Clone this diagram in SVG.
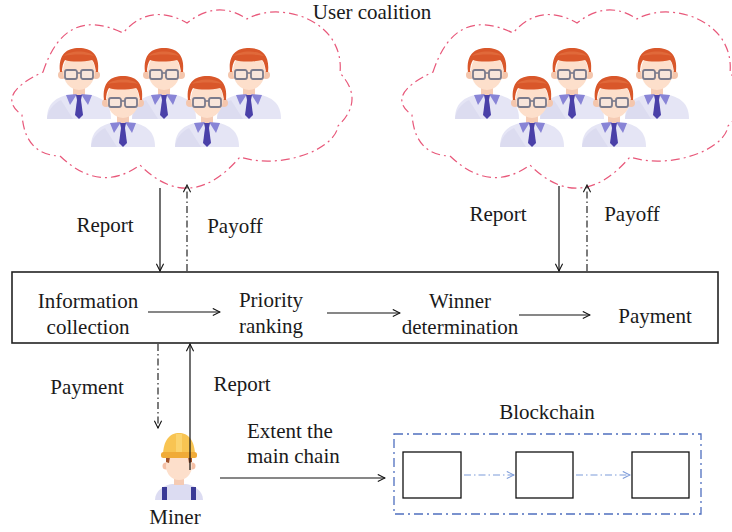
<svg xmlns="http://www.w3.org/2000/svg" xmlns:xlink="http://www.w3.org/1999/xlink" width="732" height="532" viewBox="0 0 732 532">
  <style>
    text { font-family: 'Liberation Serif', 'Times New Roman', 'DejaVu Serif', serif; font-size: 21px; fill: #1a1a1a; }
    .c { text-anchor: middle; }
    .solid { fill: none; stroke: #111; stroke-width: 1.2; }
    .dashdot { fill: none; stroke: #111; stroke-width: 1.1; stroke-dasharray: 7 3 1.5 3; }
    .cloud { fill: none; stroke: #e8587a; stroke-width: 1.2; stroke-dasharray: 9 4 2 4; }
    .chainbox { fill: none; stroke: #4f6fbf; stroke-width: 1.3; stroke-dasharray: 9 4 2 4; }
    .block { fill: #fff; stroke: #111; stroke-width: 1.3; }
    .link { fill: none; stroke: #7d9bd9; stroke-width: 1.2; stroke-dasharray: 7 3 1.5 3; }
  </style>
  <defs>
    <marker id="arr" viewBox="0 0 10 10" refX="9" refY="5" markerWidth="9" markerHeight="9" markerUnits="userSpaceOnUse" orient="auto">
      <path d="M1,1 L9,5 L1,9" fill="none" stroke="#111" stroke-width="1.2"/>
    </marker>
    <marker id="arrBlue" viewBox="0 0 10 10" refX="9" refY="5" markerWidth="9" markerHeight="9" markerUnits="userSpaceOnUse" orient="auto">
      <path d="M1,1 L9,5 L1,9" fill="none" stroke="#7d9bd9" stroke-width="1.2"/>
    </marker>

    <!-- a user: centred on x=0, top of hair at y=0 -->
    <g id="user">
      <path d="M-32,71 C-32,56 -24,50 -12,47 L12,47 C24,50 32,56 32,71 Z" fill="#e5e5f5"/>
      <path d="M-32,71 C-31,62 -26,56 -18,52 L-6,71 Z" fill="#dcdcf0"/>
      <rect x="-6" y="37" width="12" height="11" fill="#f5cbb4"/>
      <path d="M-2,46 L-13,47 L-9,57 Z" fill="#8884d6"/>
      <path d="M2,46 L13,47 L9,57 Z" fill="#8884d6"/>
      <path d="M-3,47 L3,47 L2,52 L-2,52 Z" fill="#4a40a8"/>
      <path d="M-2,52 L2,52 L4,67 L0,71 L-4,67 Z" fill="#4a40a8"/>
      <circle cx="-17" cy="27" r="4" fill="#f4c6ad"/>
      <circle cx="17" cy="27" r="4" fill="#f4c6ad"/>
      <ellipse cx="0" cy="23" rx="16" ry="19" fill="#fddfcb"/>
      <path d="M-19,24 C-21,6 -12,0 0,0 C12,0 21,6 19,24 L17,24 C16,17 15,14 13,12 C4,14 -8,14 -14,12 C-16,15 -17,19 -17,24 Z" fill="#d9572a"/>
      <path d="M-15,8 C-10,2 10,2 15,8 C8,6 -8,6 -15,8 Z" fill="#e0693a"/>
      <rect x="-14" y="22" width="12" height="9" rx="2" fill="#f3ecea" fill-opacity="0.5" stroke="#7b7b8c" stroke-width="1.8"/>
      <rect x="2" y="22" width="12" height="9" rx="2" fill="#f3ecea" fill-opacity="0.5" stroke="#7b7b8c" stroke-width="1.8"/>
      <path d="M-2,25 L2,25" stroke="#7b7b8c" stroke-width="1.6"/>
    </g>

    <!-- cloud outline around a user group -->
    <path id="cloudShape" d="M43,72 Q65,5 123,33 Q150,2 187,23 Q217,-1 247,19 C280,0 345,20 340,73 Q365,100 338,126 C335,150 280,170 240,157 Q190,215 140,165 Q100,194 60,156 Q25,155 22,115 Q-6,95 43,72 Z"/>
  </defs>

  <!-- left user coalition -->
  <g id="coalition-left">
    <use xlink:href="#cloudShape" class="cloud"/>
    <use xlink:href="#user" x="79" y="48"/>
    <use xlink:href="#user" x="164" y="48"/>
    <use xlink:href="#user" x="249" y="48"/>
    <use xlink:href="#user" x="123" y="76"/>
    <use xlink:href="#user" x="207" y="76"/>
  </g>

  <!-- right user coalition -->
  <g id="coalition-right">
    <use xlink:href="#cloudShape" class="cloud" transform="translate(390,0)"/>
    <use xlink:href="#user" x="487" y="48"/>
    <use xlink:href="#user" x="572" y="48"/>
    <use xlink:href="#user" x="657" y="48"/>
    <use xlink:href="#user" x="532" y="76"/>
    <use xlink:href="#user" x="614" y="76"/>
  </g>

  <text class="c" x="372" y="19">User coalition</text>

  <!-- auction process -->
  <g id="auction">
    <rect x="12" y="272" width="706" height="71" fill="#fff" stroke="#222" stroke-width="1.6"/>
    <g id="info-collection">
      <text class="c" x="88" y="308">Information</text>
      <text class="c" x="88" y="334">collection</text>
    </g>
    <g id="priority-ranking">
      <text class="c" x="271" y="307">Priority</text>
      <text class="c" x="271" y="333">ranking</text>
    </g>
    <g id="winner-determination">
      <text class="c" x="460" y="308">Winner</text>
      <text class="c" x="460" y="334">determination</text>
    </g>
    <g id="payment">
      <text class="c" x="655" y="323">Payment</text>
    </g>
  </g>

  <!-- miner -->
  <g id="miner">
    <path d="M155,500 C155,490 165,485 172,484 L186,484 C193,485 203,490 203,500 Z" fill="#dcdcf2"/>
    <rect x="162" y="487" width="5" height="13" fill="#3a3a96"/>
    <rect x="191" y="487" width="5" height="13" fill="#3a3a96"/>
    <rect x="174" y="474" width="10" height="11" fill="#f5cbb4"/>
    <circle cx="166" cy="466" r="3.5" fill="#f4c0a6"/>
    <circle cx="192" cy="466" r="3.5" fill="#f4c0a6"/>
    <ellipse cx="179" cy="466" rx="13" ry="14" fill="#fddfcb"/>
    <path d="M166,457 L170,457 L169,463 L166,462 Z" fill="#a0522d"/>
    <path d="M192,457 L188,457 L189,463 L192,462 Z" fill="#a0522d"/>
    <path d="M163,456 C163,440 170,433 179,433 C188,433 195,440 195,456 Z" fill="#f8c452"/>
    <path d="M176,434 L182,434 L182,454 L176,454 Z" fill="#fbd36e"/>
    <rect x="161" y="452" width="36" height="6" rx="2.5" fill="#f0ab38"/>
    <text class="c" x="175" y="524">Miner</text>
  </g>

  <!-- blockchain -->
  <g id="blockchain">
    <text class="c" x="547" y="419">Blockchain</text>
    <rect x="394" y="434" width="307" height="80" class="chainbox"/>
    <rect x="403" y="452" width="58" height="46" class="block"/>
    <rect x="516" y="452" width="57" height="46" class="block"/>
    <rect x="632" y="452" width="57" height="46" class="block"/>
  </g>

  <!-- connectors -->
  <g id="connectors">
    <line x1="160" y1="188" x2="160" y2="271" class="solid" marker-end="url(#arr)"/>
    <line x1="187" y1="271" x2="187" y2="185" class="dashdot" marker-end="url(#arr)"/>
    <line x1="559" y1="186" x2="559" y2="271" class="solid" marker-end="url(#arr)"/>
    <line x1="587" y1="271" x2="587" y2="185" class="dashdot" marker-end="url(#arr)"/>
    <line x1="148" y1="312" x2="220" y2="312" class="solid" marker-end="url(#arr)"/>
    <line x1="327" y1="313" x2="400" y2="313" class="solid" marker-end="url(#arr)"/>
    <line x1="519" y1="315" x2="590" y2="315" class="solid" marker-end="url(#arr)"/>
    <line x1="158" y1="344" x2="158" y2="428" class="dashdot" marker-end="url(#arr)"/>
    <line x1="190" y1="470" x2="190" y2="344" class="solid" marker-end="url(#arr)"/>
    <line x1="220" y1="478" x2="385" y2="478" class="solid" marker-end="url(#arr)"/>
    <line x1="464" y1="475" x2="514" y2="475" class="link" marker-end="url(#arrBlue)"/>
    <line x1="576" y1="475" x2="630" y2="475" class="link" marker-end="url(#arrBlue)"/>
    <text class="c" x="105" y="232">Report</text>
    <text class="c" x="235" y="233">Payoff</text>
    <text class="c" x="498" y="221">Report</text>
    <text class="c" x="632" y="221">Payoff</text>
    <text class="c" x="87" y="394">Payment</text>
    <text class="c" x="242" y="391">Report</text>
    <text x="247" y="438">Extent the</text>
    <text x="247" y="463">main chain</text>
  </g>
</svg>
